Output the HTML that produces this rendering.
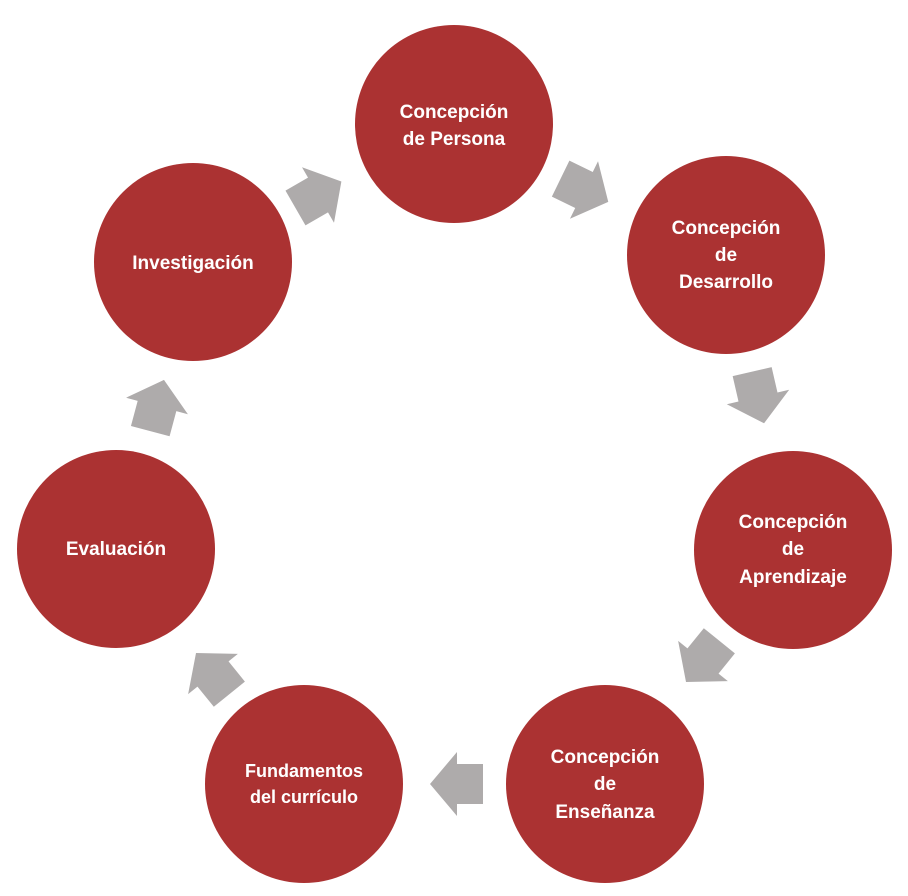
<!DOCTYPE html>
<html><head><style>
body{margin:0;background:#fff;}
svg{display:block}
text{font-family:"Liberation Sans",sans-serif;font-weight:bold;font-size:19px;fill:#fff;text-anchor:middle}
</style></head><body>
<svg width="908" height="896" viewBox="0 0 908 896">
<defs>
<polygon id="ar" points="-26,-20 0,-20 0,-32 27,0 0,32 0,20 -26,20" fill="#aeabab"/>
</defs>
<g fill="#ab3232">
<circle cx="454" cy="124" r="99"/>
<circle cx="726" cy="255" r="99"/>
<circle cx="793" cy="550" r="99"/>
<circle cx="605" cy="784" r="99"/>
<circle cx="304" cy="784" r="99"/>
<circle cx="116" cy="549" r="99"/>
<circle cx="193" cy="262" r="99"/>
</g>
<use href="#ar" transform="translate(318,195) rotate(-30)"/>
<use href="#ar" transform="translate(584,190) rotate(26)"/>
<use href="#ar" transform="translate(758,397) rotate(77)"/>
<use href="#ar" transform="translate(703,661) rotate(129)"/>
<use href="#ar" transform="translate(457,784) rotate(180)"/>
<use href="#ar" transform="translate(213,674) rotate(231)"/>
<use href="#ar" transform="translate(157,406) rotate(-75)"/>
<text x="454" y="118">Concepción</text>
<text x="454" y="145">de Persona</text>
<text x="726" y="234">Concepción</text>
<text x="726" y="261">de</text>
<text x="726" y="288">Desarrollo</text>
<text x="793" y="528">Concepción</text>
<text x="793" y="555">de</text>
<text x="793" y="583">Aprendizaje</text>
<text x="605" y="763">Concepción</text>
<text x="605" y="790">de</text>
<text x="605" y="818">Enseñanza</text>
<text x="304" y="777" style="font-size:18px">Fundamentos</text>
<text x="304" y="803" style="font-size:18px">del currículo</text>
<text x="116" y="555">Evaluación</text>
<text x="193" y="269">Investigación</text>
</svg>
</body></html>
